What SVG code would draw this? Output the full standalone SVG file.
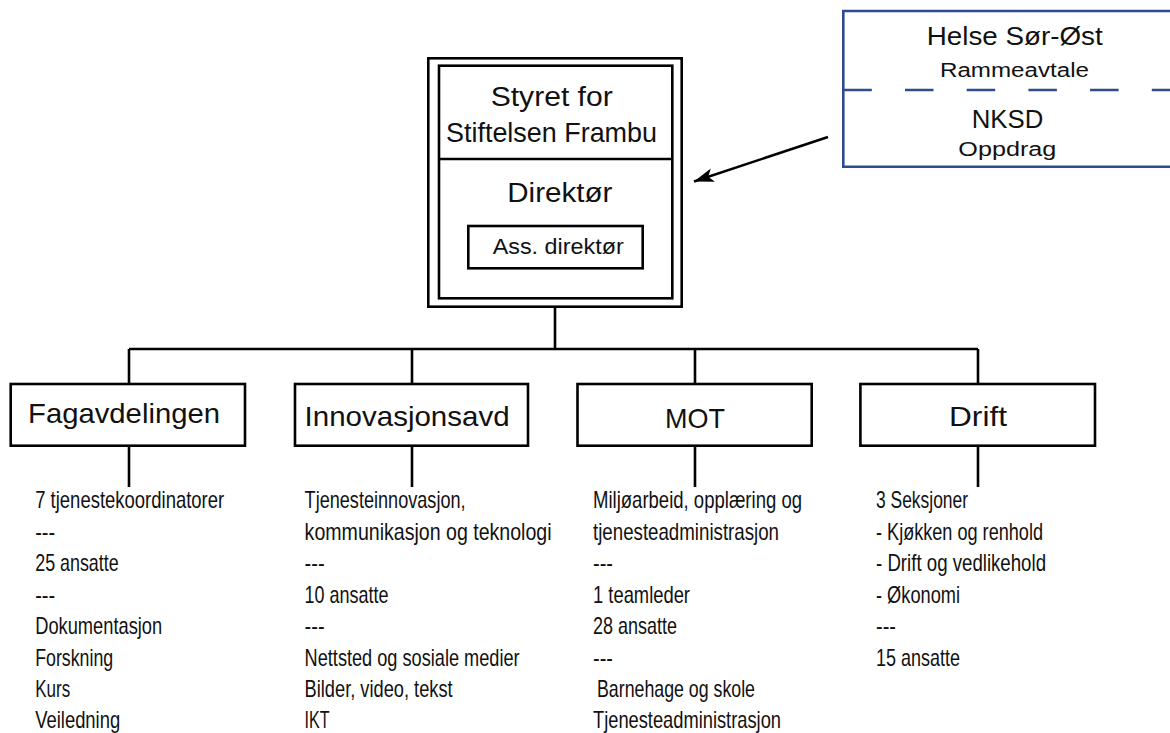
<svg xmlns="http://www.w3.org/2000/svg" width="1170" height="733" viewBox="0 0 1170 733">
<style>
  .box { fill: #ffffff; stroke: #000000; stroke-width: 2.6; }
  .line { fill: none; stroke: #000000; stroke-width: 2.6; }
  .blue { fill: none; stroke: #2d4b93; stroke-width: 2.6; }
  .t { font-family: "Liberation Sans", Arial, sans-serif; fill: #111111; }
  .lbl { font-size: 27.5px; }
  .dept { font-size: 28.5px; }
  .sub { font-size: 20px; }
  .lst { font-size: 24px; }
</style>
<defs>
  <marker id="arrow" markerUnits="userSpaceOnUse" markerWidth="24" markerHeight="16" refX="20" refY="7" orient="auto">
    <path d="M0,0 L20,7 L0,14 L5,7 Z" fill="#000000"/>
  </marker>
</defs>
<rect width="1170" height="733" fill="#ffffff"/>

<g id="connectors">
  <path class="line" d="M555,307 V349 M129,349 H978 M129,349 V384 M412,349 V384 M695,349 V384 M978,349 V384"/>
  <path class="line" d="M129,446 V487 M412,446 V487 M695,446 V487 M978,446 V487"/>
  <line class="line" x1="828" y1="137" x2="694" y2="181.5" marker-end="url(#arrow)"/>
</g>

<g id="node-styret">
  <rect class="box" x="428.3" y="58.3" width="253.4" height="248.4"/>
  <rect class="box" x="439" y="65.7" width="233.3" height="232.6"/>
  <line class="line" x1="439" y1="159" x2="672.3" y2="159"/>
  <text class="t lbl" x="490.7" y="106" textLength="122" lengthAdjust="spacingAndGlyphs">Styret for</text>
  <text class="t lbl" x="446" y="141.7" textLength="211" lengthAdjust="spacingAndGlyphs">Stiftelsen Frambu</text>
  <text class="t lbl" x="507.3" y="201.7" textLength="105" lengthAdjust="spacingAndGlyphs">Direktør</text>
</g>
<g id="node-ass">
  <rect class="box" x="468.3" y="226" width="174.4" height="42.3"/>
  <text class="t" font-size="22" x="492.7" y="254" textLength="131" lengthAdjust="spacingAndGlyphs">Ass. direktør</text>
</g>

<g id="node-helse">
  <path class="blue" d="M1175,11 H843.3 V166.7 H1175"/>
  <line class="blue" x1="843.3" y1="90" x2="1175" y2="90" stroke-dasharray="28.5 33.2"/>
  <text class="t" font-size="25.5" x="926.7" y="45" textLength="176" lengthAdjust="spacingAndGlyphs">Helse Sør-Øst</text>
  <text class="t sub" x="940" y="76.7" textLength="149" lengthAdjust="spacingAndGlyphs">Rammeavtale</text>
  <text class="t" font-size="25.5" x="971.7" y="128.3" textLength="71.6" lengthAdjust="spacingAndGlyphs">NKSD</text>
  <text class="t sub" x="958.3" y="155.5" textLength="98" lengthAdjust="spacingAndGlyphs">Oppdrag</text>
</g>

<g id="node-fag">
  <rect class="box" x="10.7" y="384" width="234.3" height="61.7"/>
  <text class="t dept" x="28" y="423" textLength="192" lengthAdjust="spacingAndGlyphs">Fagavdelingen</text>
</g>
<g id="node-inn">
  <rect class="box" x="295" y="384" width="233" height="61.7"/>
  <text class="t dept" x="304.6" y="426" textLength="205" lengthAdjust="spacingAndGlyphs">Innovasjonsavd</text>
</g>
<g id="node-mot">
  <rect class="box" x="577.5" y="384" width="234.2" height="61.7"/>
  <text class="t dept" x="665" y="428" textLength="60" lengthAdjust="spacingAndGlyphs">MOT</text>
</g>
<g id="node-drift">
  <rect class="box" x="860.4" y="384" width="234.6" height="61.7"/>
  <text class="t dept" x="949" y="426" textLength="58" lengthAdjust="spacingAndGlyphs">Drift</text>
</g>

<g id="list-fag" class="t lst">
  <text x="35.2" y="508.3" textLength="189" lengthAdjust="spacingAndGlyphs">7 tjenestekoordinatorer</text>
  <text x="35.2" y="539.8" textLength="20" lengthAdjust="spacingAndGlyphs">---</text>
  <text x="35.2" y="571.3" textLength="83.5" lengthAdjust="spacingAndGlyphs">25 ansatte</text>
  <text x="35.2" y="602.8" textLength="20" lengthAdjust="spacingAndGlyphs">---</text>
  <text x="35.2" y="634.3" textLength="127" lengthAdjust="spacingAndGlyphs">Dokumentasjon</text>
  <text x="35.2" y="665.8" textLength="78" lengthAdjust="spacingAndGlyphs">Forskning</text>
  <text x="35.2" y="697.3" textLength="35" lengthAdjust="spacingAndGlyphs">Kurs</text>
  <text x="35.2" y="728.3" textLength="85" lengthAdjust="spacingAndGlyphs">Veiledning</text>
</g>
<g id="list-inn" class="t lst">
  <text x="304.6" y="508.3" textLength="161" lengthAdjust="spacingAndGlyphs">Tjenesteinnovasjon,</text>
  <text x="304.6" y="539.8" textLength="247" lengthAdjust="spacingAndGlyphs">kommunikasjon og teknologi</text>
  <text x="304.6" y="571.3" textLength="20" lengthAdjust="spacingAndGlyphs">---</text>
  <text x="304.6" y="602.8" textLength="84" lengthAdjust="spacingAndGlyphs">10 ansatte</text>
  <text x="304.6" y="634.3" textLength="20" lengthAdjust="spacingAndGlyphs">---</text>
  <text x="304.6" y="665.8" textLength="215" lengthAdjust="spacingAndGlyphs">Nettsted og sosiale medier</text>
  <text x="304.6" y="697.3" textLength="148" lengthAdjust="spacingAndGlyphs">Bilder, video, tekst</text>
  <text x="304.6" y="728.3" textLength="25" lengthAdjust="spacingAndGlyphs">IKT</text>
</g>
<g id="list-mot" class="t lst">
  <text x="593" y="508.3" textLength="209" lengthAdjust="spacingAndGlyphs">Miljøarbeid, opplæring og</text>
  <text x="593" y="539.8" textLength="186" lengthAdjust="spacingAndGlyphs">tjenesteadministrasjon</text>
  <text x="593" y="571.3" textLength="20" lengthAdjust="spacingAndGlyphs">---</text>
  <text x="593" y="602.8" textLength="97" lengthAdjust="spacingAndGlyphs">1 teamleder</text>
  <text x="593" y="634.3" textLength="84" lengthAdjust="spacingAndGlyphs">28 ansatte</text>
  <text x="593" y="665.8" textLength="20" lengthAdjust="spacingAndGlyphs">---</text>
  <text x="597" y="697.3" textLength="158" lengthAdjust="spacingAndGlyphs">Barnehage og skole</text>
  <text x="593" y="728.3" textLength="188" lengthAdjust="spacingAndGlyphs">Tjenesteadministrasjon</text>
</g>
<g id="list-drift" class="t lst">
  <text x="876" y="508.3" textLength="92" lengthAdjust="spacingAndGlyphs">3 Seksjoner</text>
  <text x="876" y="539.8" textLength="167" lengthAdjust="spacingAndGlyphs">- Kjøkken og renhold</text>
  <text x="876" y="571.3" textLength="170" lengthAdjust="spacingAndGlyphs">- Drift og vedlikehold</text>
  <text x="876" y="602.8" textLength="84" lengthAdjust="spacingAndGlyphs">- Økonomi</text>
  <text x="876" y="634.3" textLength="20" lengthAdjust="spacingAndGlyphs">---</text>
  <text x="876" y="665.8" textLength="84" lengthAdjust="spacingAndGlyphs">15 ansatte</text>
</g>
</svg>
